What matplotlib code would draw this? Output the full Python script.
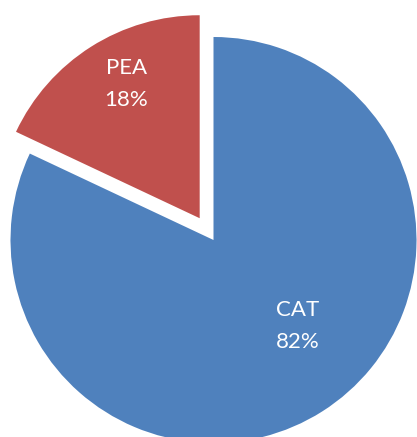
import matplotlib.pyplot as plt

# Datos
categorias = ["CAT", "PEA"]
porcentajes = [82, 18]
colores = ["#4F81BD", "#C0504D"]

fig = plt.figure(figsize=(4.17, 4.37), dpi=100)
ax = fig.add_axes([0, 0, 1, 1])

# Pie en coordenadas de pixel (y hacia arriba)
centro = (213.5, 197)
radio = 203
separacion = [0, 0.127 * radio]  # explode va en unidades de datos
cunas, _ = ax.pie(porcentajes, colors=colores, explode=separacion,
                  startangle=90, counterclock=False,
                  center=centro, radius=radio,
                  wedgeprops=dict(linewidth=0, antialiased=True))

ax.set_xlim(0, 417)
ax.set_ylim(0, 437)
ax.set_aspect("auto")
ax.axis("off")

# Etiquetas dentro de cada cuña
pos_etiquetas = [(297.7, 437 - 326), (126.3, 437 - 84)]
for nombre, pct, (x, y) in zip(categorias, porcentajes, pos_etiquetas):
    ax.text(x, y + 16, nombre, color="white", fontsize=16, family="Lato",
            ha="center", va="center")
    ax.text(x, y - 16, f"{pct}%", color="white", fontsize=16, family="Lato",
            ha="center", va="center")

fig.savefig("out.png", dpi=100)
